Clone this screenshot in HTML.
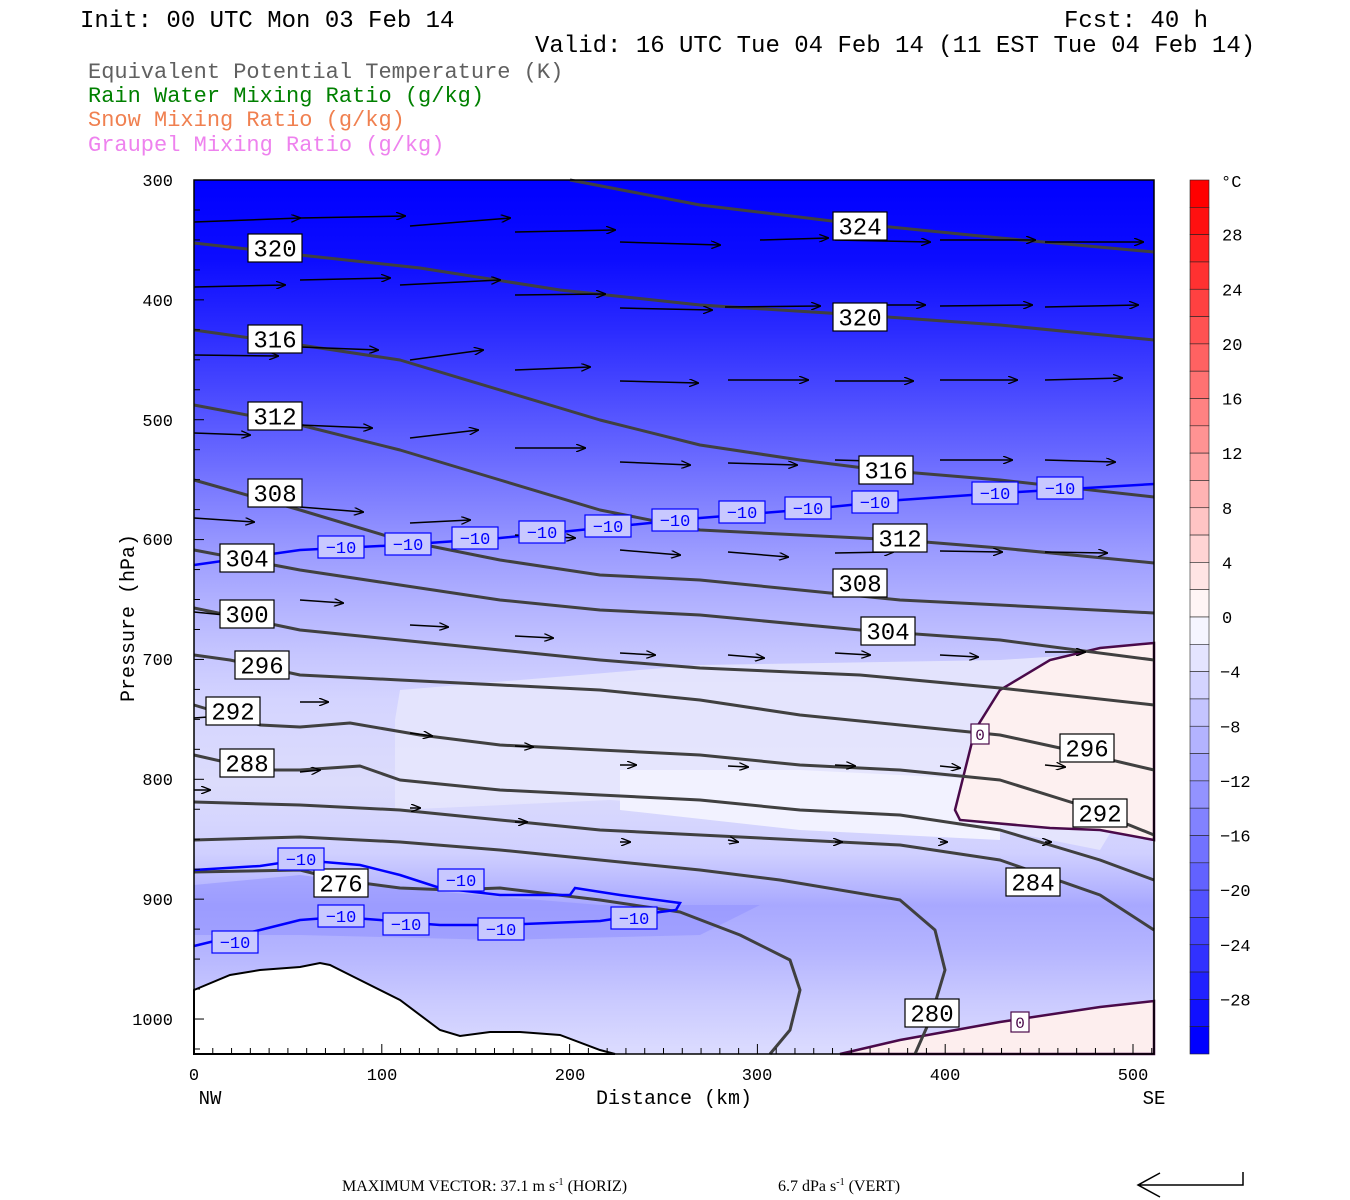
<!DOCTYPE html>
<html><head><meta charset="utf-8"><style>
body{margin:0;background:#fff;width:1350px;height:1200px;overflow:hidden}
svg{display:block}
text{font-family:"Liberation Mono",monospace}
</style></head><body>
<svg id="s" width="1350" height="1200" xmlns="http://www.w3.org/2000/svg">
<defs>
<linearGradient id="bg" x1="0" y1="180" x2="0" y2="1054" gradientUnits="userSpaceOnUse">
<stop offset="0" stop-color="#0000ff"/>
<stop offset="0.09" stop-color="#0c0cff"/>
<stop offset="0.17" stop-color="#2a2aff"/>
<stop offset="0.25" stop-color="#4c4cff"/>
<stop offset="0.31" stop-color="#6666ff"/>
<stop offset="0.366" stop-color="#8080ff"/>
<stop offset="0.423" stop-color="#9a9aff"/>
<stop offset="0.48" stop-color="#b0b0ff"/>
<stop offset="0.538" stop-color="#c4c4ff"/>
<stop offset="0.595" stop-color="#d4d4ff"/>
<stop offset="0.69" stop-color="#dcdcfc"/>
<stop offset="0.77" stop-color="#d0d0ff"/>
<stop offset="0.83" stop-color="#a8a8ff"/>
<stop offset="0.88" stop-color="#b4b4ff"/>
<stop offset="0.94" stop-color="#cacaff"/>
<stop offset="1" stop-color="#dcdcff"/>
</linearGradient>
<marker id="ah" markerWidth="10" markerHeight="8" refX="9" refY="4" orient="auto" markerUnits="userSpaceOnUse"><path d="M0,0 L10,4 L0,8" fill="none" stroke="#000" stroke-width="1.3"/></marker>
</defs>
<rect x="194" y="180" width="960" height="874" fill="url(#bg)"/>
<path d="M400,690 L700,665 L1000,660 L1154,650 L1154,760 L1100,850 L1000,830 L800,815 L610,800 L395,810 L395,720 Z" fill="#e6e6fd" opacity="0.9"/>
<path d="M620,770 L800,770 L1000,780 L1000,840 L800,830 L620,810 Z" fill="#f2f2ff"/>
<path d="M194,885 L300,875 L420,890 L600,905 L760,905 L700,935 L500,940 L300,935 L194,935 Z" fill="#9494ff" opacity="0.6"/>
<path d="M1154,643 L1100,648 L1050,660 L1000,690 L975,730 L965,770 L955,810 L960,820 L1050,828 L1100,830 L1154,840 Z" fill="#fdf0f0" stroke="#4a0a4a" stroke-width="2.5"/>
<path d="M840,1054 L900,1040 L1000,1022 L1100,1007 L1154,1001 L1154,1054 Z" fill="#fdeeee" stroke="#4a0a4a" stroke-width="2.5"/>
<path d="M194,990 L230,975 L260,970 L300,967 L320,963 L330,965 L350,975 L400,1000 L440,1030 L460,1036 L490,1032 L520,1032 L560,1035 L600,1050 L615,1054 L194,1054 Z" fill="#fff" stroke="#000" stroke-width="2"/>
<g fill="none" stroke="#404040" stroke-width="3" stroke-linejoin="round">
<polyline points="570,180 700,205 840,222 1000,238 1154,252"/>
<polyline points="194,243 300,255 420,268 560,290 700,305 860,315 1000,325 1154,340"/>
<polyline points="194,330 300,345 400,360 500,390 600,420 700,445 800,460 880,470 1000,480 1154,497"/>
<polyline points="194,405 300,425 400,450 500,480 600,510 700,530 800,535 900,540 1000,548 1154,563"/>
<polyline points="194,480 300,510 400,540 500,560 600,575 700,580 800,590 900,600 1000,605 1154,613"/>
<polyline points="194,550 300,570 400,585 500,600 600,610 700,615 860,630 1000,640 1154,660"/>
<polyline points="194,608 300,630 400,640 500,650 600,660 700,668 860,675 1000,688 1154,705"/>
<polyline points="194,655 230,660 300,675 400,680 500,685 600,690 700,700 800,715 900,725 1000,735 1060,748 1154,770"/>
<polyline points="194,705 260,725 300,727 350,723 420,735 500,745 600,750 700,755 800,765 900,770 1000,780 1080,805 1154,835"/>
<polyline points="194,755 260,770 300,770 360,766 400,780 450,785 500,790 600,795 700,800 800,810 900,815 1000,830 1100,860 1154,880"/>
<polyline points="194,802 300,805 400,810 500,820 600,830 700,835 800,840 900,845 1000,860 1100,895 1154,930"/>
<polyline points="194,840 300,837 400,842 500,850 600,860 700,870 780,880 900,900 935,930 945,970 930,1020 915,1054"/>
<polyline points="194,872 300,870 340,880 400,888 450,890 500,888 600,900 680,912 740,935 790,960 800,990 790,1030 770,1054"/>
</g>
<g fill="none" stroke="#0000ff" stroke-width="2.5">
<polyline points="194,565 300,550 400,545 500,538 600,528 700,518 800,510 900,500 1000,493 1154,484"/>
<polyline points="194,870 260,866 300,860 360,865 400,875 440,888 500,895 570,895 575,888 620,895 680,903 676,910 660,912 600,921 500,925 440,925 400,922 380,920 340,917 300,920 260,930 194,946"/>
</g>
<g id="arrows" stroke="#000" stroke-width="1.5" marker-end="url(#ah)"></g>
<g id="lab"></g>
<rect x="194" y="180" width="960" height="874" fill="none" stroke="#000" stroke-width="1.5"/>
<g id="ticks" stroke="#000" stroke-width="1"></g>
<g id="cb"></g>
<g font-size="24" fill="#000">
<text x="80" y="27">Init: 00 UTC Mon 03 Feb 14</text>
<text x="1064" y="27">Fcst:  40 h</text>
<text x="535" y="52">Valid: 16 UTC Tue 04 Feb 14 (11 EST Tue 04 Feb 14)</text>
<text x="88" y="78" fill="#606060" font-size="22">Equivalent Potential Temperature (K)</text>
<text x="88" y="102" fill="#008000" font-size="22">Rain Water Mixing Ratio (g/kg)</text>
<text x="88" y="126" fill="#f08050" font-size="22">Snow Mixing Ratio (g/kg)</text>
<text x="88" y="151" fill="#ee82ee" font-size="22">Graupel Mixing Ratio (g/kg)</text>
</g>
<g font-size="17" text-anchor="end">
<text x="173" y="186">300</text><text x="173" y="306">400</text><text x="173" y="426">500</text>
<text x="173" y="545">600</text><text x="173" y="665">700</text><text x="173" y="785">800</text>
<text x="173" y="905">900</text><text x="173" y="1025">1000</text>
</g>
<g font-size="17" text-anchor="middle">
<text x="194" y="1080">0</text><text x="382" y="1080">100</text><text x="570" y="1080">200</text>
<text x="757" y="1080">300</text><text x="945" y="1080">400</text><text x="1133" y="1080">500</text>
<text x="210" y="1104" font-size="19">NW</text><text x="1154" y="1104" font-size="19">SE</text>
<text x="674" y="1104" font-size="20">Distance (km)</text>
</g>
<text transform="translate(134,618) rotate(-90)" text-anchor="middle" font-size="20">Pressure (hPa)</text>
<text x="342" y="1191" style="font-family:'Liberation Serif',serif" font-size="16">MAXIMUM VECTOR:  37.1 m s<tspan dy="-6" font-size="10">-1</tspan><tspan dy="6"> (HORIZ)</tspan></text>
<text x="778" y="1191" style="font-family:'Liberation Serif',serif" font-size="16">6.7 dPa s<tspan dy="-6" font-size="10">-1</tspan><tspan dy="6"> (VERT)</tspan></text>
<path d="M1243,1172 L1243,1185 L1138,1185 M1160,1173 L1138,1185 L1160,1197" fill="none" stroke="#000" stroke-width="1.5"/>
</svg>
<script>
var NS="http://www.w3.org/2000/svg",s=document.getElementById('s');
function el(p,t,a,txt){var e=document.createElementNS(NS,t);for(var k in a)e.setAttribute(k,a[k]);if(txt)e.textContent=txt;p.appendChild(e);return e;}
var A=[[194,222,300,218],[300,218,405,216],[410,226,510,218],[515,232,615,230],[620,242,720,245],[760,240,828,238],[835,240,930,242],[940,240,1035,240],[1045,242,1143,242],
[194,287,285,285],[300,280,390,278],[400,285,500,280],[515,295,605,294],[620,308,712,310],[725,307,820,306],[835,305,925,305],[940,306,1032,305],[1045,307,1138,305],
[194,355,278,356],[300,347,378,350],[410,360,483,350],[515,370,590,367],[620,381,698,383],[728,380,808,380],[835,381,913,381],[940,380,1017,380],[1045,380,1122,378],
[194,433,250,435],[300,425,372,428],[410,438,478,430],[515,448,585,448],[620,462,690,465],[728,463,797,465],[835,460,910,462],[940,460,1012,460],[1045,460,1115,462],
[194,518,254,522],[300,507,363,512],[410,523,470,520],[515,535,575,538],[620,550,680,555],[728,552,788,557],[835,553,893,552],[940,551,1002,552],[1045,552,1107,553],
[194,612,235,616],[300,600,343,603],[410,625,448,627],[515,636,553,638],[620,653,655,655],[728,655,764,658],[835,653,870,655],[940,655,978,657],[1045,652,1085,652],
[194,718,222,716],[300,702,328,702],[410,733,432,736],[515,746,533,747],[620,765,636,765],[728,766,748,767],[835,765,855,766],[940,766,960,768],[1045,765,1065,767],
[194,790,210,790],[300,772,320,770],[410,808,420,808],[515,822,527,822],[620,842,630,842],[728,840,738,842],[835,842,842,842],[940,842,947,842],[1045,842,1051,842]];
var g=document.getElementById('arrows');
A.forEach(function(a){el(g,'line',{x1:a[0],y1:a[1],x2:a[2],y2:a[3]});});
var L=document.getElementById('lab');
function box(x,y,t,w,h,fs,stroke,fill,col){el(L,'rect',{x:x-w/2,y:y-h/2,width:w,height:h,fill:fill,stroke:stroke,'stroke-width':1.2});el(L,'text',{x:x,y:y+fs*0.36,'text-anchor':'middle','font-size':fs,fill:col},t);}
[[275,248,'320'],[275,339,'316'],[275,416,'312'],[275,493,'308'],[247,558,'304'],[247,614,'300'],[262,665,'296'],[233,711,'292'],[247,763,'288'],[341,883,'276'],[860,226,'324'],[860,317,'320'],[886,470,'316'],[900,538,'312'],[860,583,'308'],[888,631,'304'],[1087,748,'296'],[1100,813,'292'],[1033,882,'284'],[932,1013,'280']].forEach(function(b){box(b[0],b[1],b[2],54,28,24,'#000','#fff','#000');});
[[341,547],[408,544],[475,538],[542,532],[608,526],[675,520],[742,512],[808,508],[875,502],[995,493],[1060,488],[301,859],[461,880],[341,916],[406,924],[501,929],[634,918],[235,942]].forEach(function(b){box(b[0],b[1],'\u221210',46,22,17,'#0000ff','#c8c8ff','#0000ff');});
box(980,734,'0',18,20,16,'#4a0a4a','#fff','#4a0a4a');box(1020,1022,'0',18,20,16,'#4a0a4a','#fff','#4a0a4a');
var T=document.getElementById('ticks');
for(var p=300;p<=1025;p+=25){var y=180+(p-300)*1.1986;var w=(p%100==0)?10:6;el(T,'line',{x1:194,y1:y,x2:194+w,y2:y});}
for(var d=0;d<=510;d+=10){var x=194+d*1.878;if(x>1154)break;var w=(d%100==0)?10:6;el(T,'line',{x1:x,y1:1054,x2:x,y2:1054-w});}
var C=document.getElementById('cb'),bh=874/32;
for(var i=0;i<32;i++){var c;if(i<16){var g2=Math.round(i*16.3);c='rgb(255,'+g2+','+g2+')';}else{var j=31-i;var v=Math.round(j*16.3);c='rgb('+v+','+v+',255)';}
el(C,'rect',{x:1190,y:180+i*bh,width:19,height:bh,fill:c,stroke:'#222','stroke-width':0.6});}
el(C,'text',{x:1221,y:187,'font-size':17},'\u00b0C');
for(var k=1;k<16;k++){var v=32-4*k;var y=180+k*2*bh;el(C,'text',{x:v<0?1220:1222,y:y+6,'font-size':17},(v<0?'\u2212':'')+Math.abs(v));}
</script>
</body></html>
